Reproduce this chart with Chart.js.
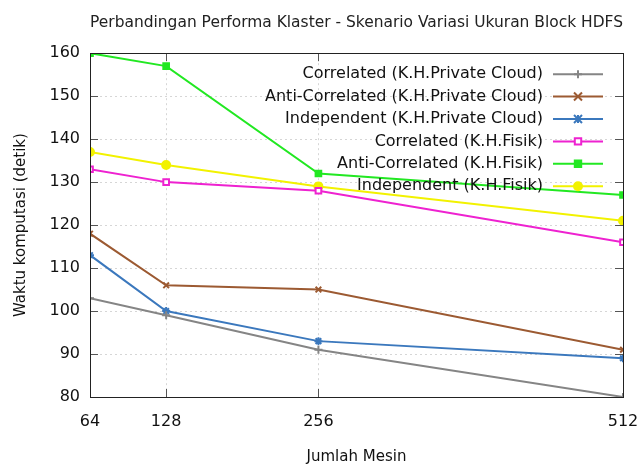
<!DOCTYPE html>
<html lang="id">
<head>
    <meta charset="UTF-8">
    <title>Perbandingan Performa Klaster</title>
    <script src="https://cdn.jsdelivr.net/npm/chart.js"></script>
    <style>
        body { margin: 0; background: #fff; }
        #wrap { width: 639px; height: 466px; }
    </style>
</head>
<body>
    <div id="wrap"><canvas id="chart"></canvas></div>
    <script>
        // data
        const mesin = [64, 128, 256, 512];
        const yTicks = [80, 90, 100, 110, 120, 130, 140, 150, 160];

        const corrPC = [103, 99, 91, 80];
        const antiPC = [118, 106, 105, 91];
        const indepPC = [113, 100, 93, 89];
        const corrFisik = [133, 130, 128, 116];
        const antiFisik = [160, 157, 132, 127];
        const indepFisik = [137, 134, 129, 121];

        const seriesNames = [
            'Correlated (K.H.Private Cloud)',
            'Anti-Correlated (K.H.Private Cloud)',
            'Independent (K.H.Private Cloud)',
            'Correlated (K.H.Fisik)',
            'Anti-Correlated (K.H.Fisik)',
            'Independent (K.H.Fisik)'
        ];
        const seriesData = [corrPC, antiPC, indepPC, corrFisik, antiFisik, indepFisik];
        const colors = ['#858585', '#9c5a32', '#3b78bd', '#ee22d0', '#22e822', '#f2f200'];
        const pointStyles = ['cross', 'crossRot', 'star', 'rect', 'rect', 'circle'];
        const pointFill = ['#858585', '#9c5a32', '#3b78bd', '#ffffff', '#22e822', '#f2f200'];

        const datasets = seriesNames.map((name, i) => ({
            label: name,
            data: mesin.map((m, j) => ({ x: m, y: seriesData[i][j] })),
            borderColor: colors[i],
            backgroundColor: pointFill[i],
            pointBorderColor: colors[i],
            pointBackgroundColor: pointFill[i],
            pointStyle: pointStyles[i],
            pointRadius: 4,
            pointBorderWidth: 2,
            borderWidth: 2,
            tension: 0,
            fill: false
        }));

        // tick kecil ke dalam, gaya gnuplot
        const innerTicks = {
            id: 'innerTicks',
            afterDatasetsDraw(chart) {
                const { ctx, chartArea: a, scales } = chart;
                ctx.save();
                ctx.strokeStyle = '#555';
                ctx.lineWidth = 1;
                ctx.beginPath();
                yTicks.forEach(v => {
                    const y = Math.round(scales.y.getPixelForValue(v)) + 0.5;
                    ctx.moveTo(a.left, y); ctx.lineTo(a.left + 8, y);
                    ctx.moveTo(a.right, y); ctx.lineTo(a.right - 8, y);
                });
                mesin.forEach(v => {
                    const x = Math.round(scales.x.getPixelForValue(v)) + 0.5;
                    ctx.moveTo(x, a.bottom); ctx.lineTo(x, a.bottom - 8);
                    ctx.moveTo(x, a.top); ctx.lineTo(x, a.top + 8);
                });
                ctx.stroke();
                // bingkai
                ctx.strokeStyle = '#222';
                ctx.strokeRect(Math.round(a.left) + 0.5, Math.round(a.top) + 0.5,
                    Math.round(a.right - a.left), Math.round(a.bottom - a.top));
                ctx.restore();
            }
        };

        function drawMarker(ctx, style, x, y, r, stroke, fillCol) {
            ctx.save();
            ctx.strokeStyle = stroke;
            ctx.fillStyle = fillCol;
            ctx.lineWidth = 2;
            ctx.beginPath();
            if (style === 'cross') {
                ctx.moveTo(x - r, y); ctx.lineTo(x + r, y);
                ctx.moveTo(x, y - r); ctx.lineTo(x, y + r);
                ctx.stroke();
            } else if (style === 'crossRot') {
                ctx.moveTo(x - r, y - r); ctx.lineTo(x + r, y + r);
                ctx.moveTo(x - r, y + r); ctx.lineTo(x + r, y - r);
                ctx.stroke();
            } else if (style === 'star') {
                ctx.moveTo(x - r, y); ctx.lineTo(x + r, y);
                ctx.moveTo(x, y - r); ctx.lineTo(x, y + r);
                ctx.moveTo(x - r, y - r); ctx.lineTo(x + r, y + r);
                ctx.moveTo(x - r, y + r); ctx.lineTo(x + r, y - r);
                ctx.stroke();
            } else if (style === 'rect') {
                ctx.rect(x - r * 0.8, y - r * 0.8, r * 1.6, r * 1.6);
                ctx.fill(); ctx.stroke();
            } else {
                ctx.arc(x, y, r, 0, Math.PI * 2);
                ctx.fill(); ctx.stroke();
            }
            ctx.restore();
        }

        // legenda gaya gnuplot: teks rata kanan, contoh garis di kanan
        const gnuLegend = {
            id: 'gnuLegend',
            afterDraw(chart) {
                const { ctx, chartArea: a } = chart;
                const textRight = a.right - 80;
                const lineL = a.right - 70, lineR = a.right - 20;
                ctx.save();
                ctx.font = '16px "DejaVu Sans"';
                ctx.textAlign = 'right';
                ctx.textBaseline = 'middle';
                chart.data.datasets.forEach((ds, i) => {
                    const y = a.top + 21 + i * 22.4;
                    ctx.fillStyle = '#111';
                    ctx.fillText(ds.label, textRight, y);
                    ctx.strokeStyle = ds.borderColor;
                    ctx.lineWidth = 2;
                    ctx.beginPath();
                    ctx.moveTo(lineL, y); ctx.lineTo(lineR, y);
                    ctx.stroke();
                    drawMarker(ctx, ds.pointStyle, (lineL + lineR) / 2, y, 4, ds.borderColor, ds.pointBackgroundColor);
                });
                ctx.restore();
            }
        };

        const chart = new Chart(document.getElementById('chart'), {
            type: 'line',
            data: { datasets: datasets },
            options: {
                responsive: true,
                maintainAspectRatio: false,
                animation: false,
                layout: { padding: { left: 0, right: 16, top: 0, bottom: 0 } },
                plugins: {
                    legend: { display: false },
                    tooltip: { enabled: false },
                    title: {
                        display: true,
                        fullSize: false,
                        text: 'Perbandingan Performa Klaster - Skenario Variasi Ukuran Block HDFS',
                        color: '#222',
                        font: { family: 'DejaVu Sans', size: 16.4, weight: 'normal' },
                        padding: { top: 13, bottom: 20.5 }
                    }
                },
                scales: {
                    x: {
                        type: 'linear',
                        min: 64,
                        max: 512,
                        afterBuildTicks(scale) { scale.ticks = mesin.map(v => ({ value: v })); },
                        afterFit(scale) {
                            scale.height = 69;
                            scale.paddingRight = 0;
                            scale.paddingLeft = 0;
                        },
                        border: { display: false, dash: [2, 3] },
                        grid: { color: '#d6d6d6', drawTicks: false },
                        ticks: {
                            color: '#111',
                            padding: 15,
                            maxRotation: 0,
                            font: { family: 'DejaVu Sans', size: 16 },
                            callback: v => String(v)
                        },
                        title: {
                            display: true,
                            text: 'Jumlah Mesin',
                            color: '#111',
                            font: { family: 'DejaVu Sans', size: 15 },
                            padding: { top: 4, bottom: 0 }
                        }
                    },
                    y: {
                        min: 80,
                        max: 160,
                        afterBuildTicks(scale) { scale.ticks = yTicks.map(v => ({ value: v })); },
                        afterFit(scale) { scale.width = 90; },
                        border: { display: false, dash: [2, 3] },
                        grid: { color: '#d6d6d6', drawTicks: false },
                        ticks: {
                            color: '#111',
                            padding: 10,
                            font: { family: 'DejaVu Sans', size: 16 }
                        },
                        title: {
                            display: true,
                            text: 'Waktu komputasi (detik)',
                            color: '#111',
                            font: { family: 'DejaVu Sans', size: 15 },
                            padding: { top: 12, bottom: 4 }
                        }
                    }
                }
            },
            plugins: [innerTicks, gnuLegend]
        });
    </script>
</body>
</html>
